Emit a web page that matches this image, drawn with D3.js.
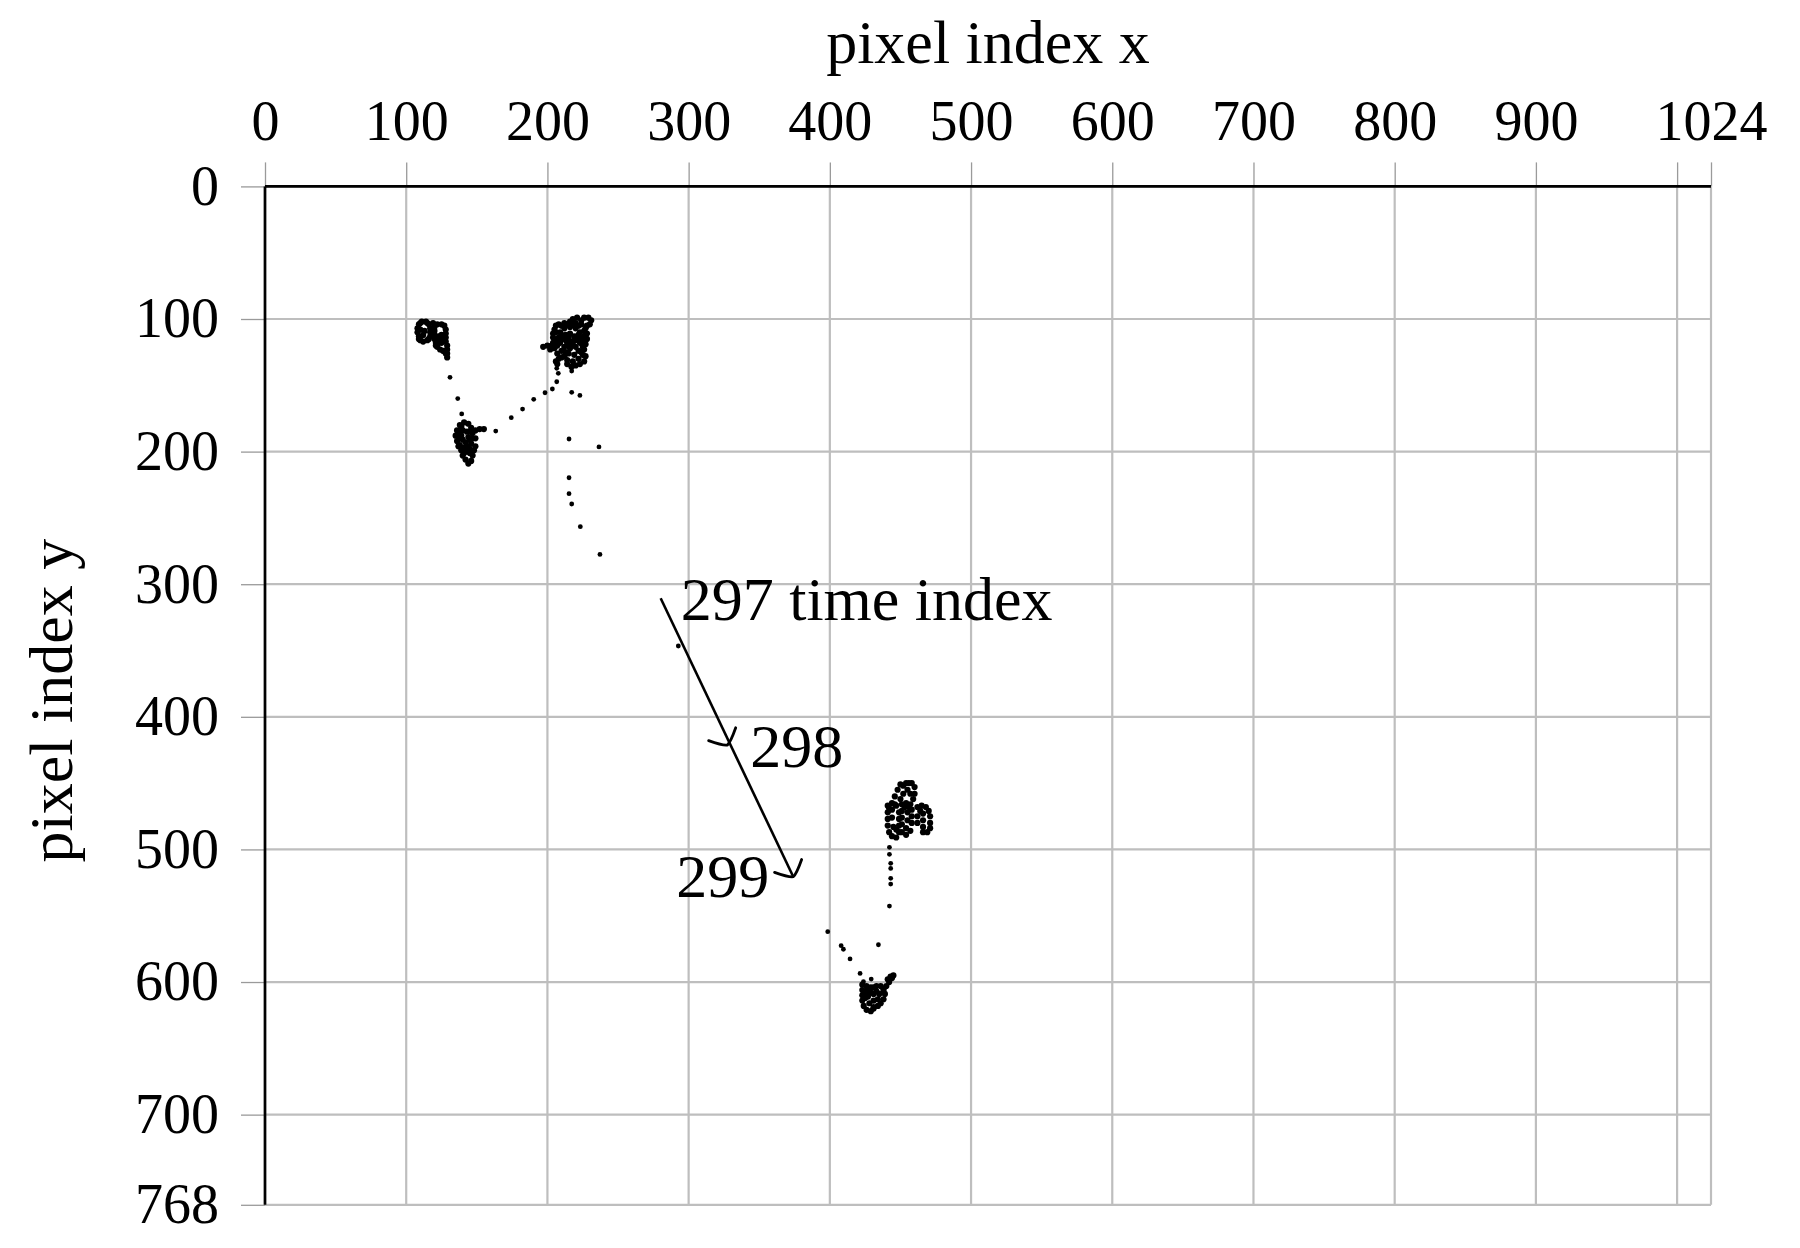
<!DOCTYPE html>
<html>
<head>
<meta charset="utf-8">
<script src="https://cdn.jsdelivr.net/npm/d3@7"></script>
<style>
  html, body { margin: 0; padding: 0; background: #fff; }
  svg { display: block; }
  text { font-family: "Liberation Serif", "DejaVu Serif", serif; fill: #000; }
</style>
</head>
<body>
<svg id="chart" width="1800" height="1248"></svg>
<script>
// ---------------- data ----------------
const xTickValues = [0, 100, 200, 300, 400, 500, 600, 700, 800, 900, 1000, 1024];
const xTickLabels = ["0", "100", "200", "300", "400", "500", "600", "700", "800", "900", "", "1024"];
const yTickValues = [0, 100, 200, 300, 400, 500, 600, 700, 768];
const yTickLabels = ["0", "100", "200", "300", "400", "500", "600", "700", "768"];

// gaze positions (pixel x, pixel y), clustered fixations
const clusterA = [
  [109,104],[111,102],[114,102],[116,104],[117,107],[117,110],[117,113],[115,116],[112,117],[110,116],
  [109,113],[108,110],[108,107],[110,108],[113,109],[112,112],[110,103],[115,103],[116,115],[109,115],
  [119,103],[120,106],[120,109],[120,112],[120,115],[121,118],[122,121],[124,123],[126,124],[128,126],
  [129,129],[129,126],[129,123],[129,120],[128,117],[128,114],[128,111],[128,108],[127,105],[125,104],[122,104],
  [123,113],[125,112],[126,115],[125,118],[123,118],[122,115],[121,120],[127,124]
];
const clusterB = [
  [205,108],[208,104],[212,103],[216,102],[220,103],[224,104],[227,107],[228,111],[228,115],[227,119],
  [226,123],[225,127],[222,130],[218,132],[214,131],[210,129],[207,126],[205,122],[204,118],[204,114],[204,111],
  [209,110],[212,107],[216,106],[220,107],[223,110],[224,114],[223,118],[220,121],[216,122],[212,121],[209,118],[208,114],
  [213,112],[216,111],[219,113],[219,116],[216,117],[213,116],[215,114],[211,115],[221,116],[218,119],[214,119],
  [206,105],[210,105],[214,104],[218,104],[222,105],[226,109],[226,113],[225,117],[206,110],[206,116],[207,120],
  [210,124],[213,125],[225,121],[222,124],[210,112],[222,112],
  [218,100],[221,99],[224,101],[226,99],[229,99],[231,101],[230,104],[228,105],
  [197,121],[200,120],[203,120],[202,123],
  [212,128],[214,134],[217,136],[220,135],[223,134],[226,132],[227,128],[224,125],[219,127],[215,126],
  [208,130],[207,134],[206,132]
];
const clusterC = [
  [138,180],[141,178],[144,179],[146,182],[147,186],[147,190],[146,194],[145,198],[142,200],[139,199],
  [137,196],[136,192],[135,188],[136,184],
  [140,184],[143,185],[144,189],[142,193],[140,191],[139,188],[138,195],[143,196],[139,181],[145,185],
  [138,186],[137,189],[145,191],[141,197],
  [140,203],[142,206],[144,209],[146,207],[147,203],[145,201],[141,201],
  [149,184],[152,183],[155,183],[149,190],[149,196],[148,199]
];
const clusterD = [
  [446,466],[446,460],[448,455],[450,451],[454,450],[458,450],[460,453],[460,458],[459,462],[457,458],
  [455,455],[452,458],[450,462],[452,452],[456,450],
  [441,467],[441,472],[441,477],[441,482],[442,487],[444,490],[447,491],[449,487],[449,482],[449,477],
  [449,472],[447,467],[444,465],[444,470],[444,476],[445,483],[442,469],[447,485],
  [451,466],[454,465],[457,466],[458,470],[458,475],[458,480],[457,486],[454,489],[451,487],[451,481],
  [451,476],[451,471],[455,472],[455,478],[454,484],[453,468],[456,468],
  [462,468],[465,467],[468,468],[470,471],[471,475],[471,480],[471,484],[469,487],[466,487],[466,483],
  [466,478],[466,473],[464,471],[462,475],[462,480]
];
const clusterE = [
  [423,602],[423,606],[423,610],[423,614],[424,618],[426,621],[429,622],[431,619],[431,614],[431,609],
  [431,604],[433,603],[436,603],[438,605],[439,609],[438,613],[436,616],[434,618],[431,620],[428,616],
  [427,611],[427,606],[426,603],[425,609],[429,608],[435,609],[434,613],[425,612],[429,604],[433,607],
  [438,606],[440,603],[442,600],[444,597],[445,595],[443,596],[441,598]
];
// isolated samples between fixations
const trail = [
  [131,144],[136.5,160],[139.3,171.6],
  [163.4,184.5],[174.4,174.4],[182.4,167.9],[190.3,160.6],[198.3,155.6],[203.5,152.8],[206.6,147.3],[207.7,141],[206.6,137.2],
  [217.2,139.2],[217.2,155.3],[223,157.6],[215.3,190.5],[236.5,196.5],[215.3,219.7],[215.3,231.7],[217.2,239.5],[223.3,256.6],[237.2,277.5],
  [292.7,346.6],
  [398.5,562],[408,572.6],[409.6,575.3],[414.3,582.6],[421.4,593.5],[423.8,599.8],[429.3,597.8],[434.4,571.9],
  [442.2,542.7],[443.1,526.1],[443.1,521.8],[443.1,514.3],[443.1,510.5],[442.2,503.7],[442.2,498.4]
];

// saccade annotation (time indices 297 -> 299)
const annotX = [280.2, 327.4, 374.1];
const annotY = [310.6, 421.3, 520.6];
const annotLabels = ["297 time index", "298", "299"];

// ---------------- chart ----------------
const svg = d3.select("#chart");
svg.append("rect").attr("width", 1800).attr("height", 1248).attr("fill", "#fff");

const x = d3.scaleLinear().domain([0, 1024]).range([265, 1711]);
const y = d3.scaleLinear().domain([0, 768]).range([186.4, 1204.8]);

const grid = svg.append("g");
grid.selectAll("line.vx").data(xTickValues).join("line")
  .attr("x1", d => x(d)).attr("x2", d => x(d))
  .attr("y1", y(0)).attr("y2", y(768))
  .attr("stroke", "#bebebe").attr("stroke-width", 2.2);
grid.selectAll("line.hy").data(yTickValues).join("line")
  .attr("x1", x(0)).attr("x2", x(1024))
  .attr("y1", d => y(d)).attr("y2", d => y(d))
  .attr("stroke", "#bebebe").attr("stroke-width", 2.2);

const xAxis = svg.append("g").attr("transform", `translate(0,${y(0)})`)
  .call(d3.axisTop(x).tickValues(xTickValues).tickSize(24).tickPadding(22)
    .tickFormat((d, i) => xTickLabels[i]));
const yAxis = svg.append("g").attr("transform", `translate(${x(0)},0)`)
  .call(d3.axisLeft(y).tickValues(yTickValues).tickSize(24).tickPadding(22)
    .tickFormat((d, i) => yTickLabels[i]));
[xAxis, yAxis].forEach(g => {
  g.select(".domain").remove();
  g.selectAll(".tick line").attr("stroke", "#9a9a9a").attr("stroke-width", 1.3);
  g.selectAll(".tick text").style("font-family", "'Liberation Serif', serif").style("font-size", "56px").attr("fill", "#000");
});

// axis lines
svg.append("line").attr("x1", x(0)).attr("x2", x(1024)).attr("y1", y(0)).attr("y2", y(0))
  .attr("stroke", "#000").attr("stroke-width", 2.7);
svg.append("line").attr("x1", x(0)).attr("x2", x(0)).attr("y1", y(0)).attr("y2", y(768))
  .attr("stroke", "#000").attr("stroke-width", 2.7);

// axis titles
svg.append("text").attr("x", (x(0) + x(1024)) / 2).attr("y", 63)
  .attr("text-anchor", "middle").style("font-size", "62px").text("pixel index x");
svg.append("text").attr("transform", `translate(72,${(y(0) + y(768)) / 2 + 5}) rotate(-90)`)
  .attr("text-anchor", "middle").style("font-size", "62px").text("pixel index y");

// points
const clusterPts = [].concat(clusterA, clusterB, clusterC, clusterD, clusterE);
svg.append("g").selectAll("circle").data(clusterPts).join("circle")
  .attr("cx", d => x(d[0])).attr("cy", d => y(d[1])).attr("r", 3.1).attr("fill", "#000");
svg.append("g").selectAll("circle").data(trail).join("circle")
  .attr("cx", d => x(d[0])).attr("cy", d => y(d[1])).attr("r", 2.4).attr("fill", "#000");

// annotation line and arrow heads
const lineGen = d3.line().x(d => x(d[0])).y(d => y(d[1]));
const annotPts = annotX.map((v, i) => [v, annotY[i]]);
svg.append("path").attr("d", lineGen([annotPts[0], annotPts[2]]))
  .attr("fill", "none").attr("stroke", "#000").attr("stroke-width", 2.6);
const ang = Math.atan2(y(annotY[2]) - y(annotY[0]), x(annotX[2]) - x(annotX[0])) * 180 / Math.PI;
[1, 2].forEach(i => {
  svg.append("path")
    .attr("transform", `translate(${x(annotX[i])},${y(annotY[i])}) rotate(${ang})`)
    .attr("d", "M-12,-15 Q-1,-4 0,0 Q-1,4 -12,15")
    .attr("fill", "none").attr("stroke", "#000").attr("stroke-width", 2.8).attr("stroke-linecap", "round");
});
svg.append("text").attr("x", x(annotX[0]) + 20).attr("y", y(annotY[0]) + 22)
  .style("font-size", "62px").text(annotLabels[0]);
svg.append("text").attr("x", x(annotX[1]) + 23).attr("y", y(annotY[1]) + 22)
  .style("font-size", "62px").text(annotLabels[1]);
svg.append("text").attr("x", x(annotX[2]) - 24).attr("y", y(annotY[2]) + 20)
  .attr("text-anchor", "end").style("font-size", "62px").text(annotLabels[2]);
</script>
</body>
</html>
